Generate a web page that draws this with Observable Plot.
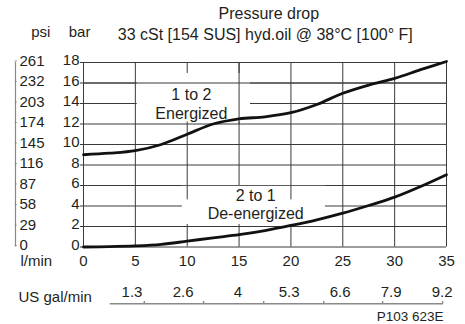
<!DOCTYPE html>
<html><head><meta charset="utf-8">
<script src="https://cdn.jsdelivr.net/npm/d3@7"></script>
<script src="https://cdn.jsdelivr.net/npm/@observablehq/plot@0.6"></script>
<style>body{margin:0;background:#fff}</style>
</head><body><div id="chart"></div>
<script>
// Flow (l/min) and pressure drop (bar)
const flow = [0, 2.5, 5, 7.5, 10, 12.5, 15, 17.5, 20, 22.5, 25, 27.5, 30, 32.5, 35];
const energized = [9.0, 9.15, 9.4, 10.0, 11.0, 12.0, 12.5, 12.7, 13.1, 13.9, 15.0, 15.8, 16.45, 17.3, 18.1];
const deEnergized = [0, 0.03, 0.1, 0.25, 0.57, 0.9, 1.2, 1.6, 2.1, 2.65, 3.3, 4.05, 4.86, 5.9, 7.05];
const seriesNames = ["1 to 2\nEnergized", "2 to 1\nDe-energized"];
const labelPos = [{x: 10.4, y: 12.51}, {x: 16.6, y: 2.75}];
const labelBoxes = [
  {x1: 5.18, x2: 16.1, y1: 12.2, y2: 16.93},
  {x1: 9.53, x2: 23.33, y1: 2.2, y2: 5.92}
];
const gridRedraw = [{x: 15, y1: 12, y2: 18}, {x: 10, y1: 4.6, y2: 6}, {x: 20, y1: 4.6, y2: 6}];
const barTicks = [0, 2, 4, 6, 8, 10, 12, 14, 16, 18];
const psiLabels = ["0", "29", "58", "87", "116", "145", "174", "203", "232", "261"];
const lpmTicks = [0, 5, 10, 15, 20, 25, 30, 35];
const galLabels = ["1.3", "2.6", "4", "5.3", "6.6", "7.9", "9.2"];
const galTickMarks = [1.55, 3.06, 4.59, 6.12, 7.62, 9.15];
const galAxisExtent = [0.68, 9.17];
const LPM_PER_GAL = 3.785;
const title = "Pressure drop";
const subtitle = "33 cSt [154 SUS] hyd.oil @ 38°C [100° F]";
const figId = "P103 623E";

const rows = [];
flow.forEach((f, i) => {
  rows.push({flow: f, dp: energized[i], s: "E"});
  rows.push({flow: f, dp: deEnergized[i], s: "D"});
});
const labels = seriesNames.map((t, i) => ({t, ...labelPos[i]}));

const ink = "#231f20";
const grid = "#3a3a3a";

const chart = Plot.plot({
  width: 465, height: 324,
  marginLeft: 83, marginRight: 19, marginTop: 62, marginBottom: 77.5,
  x: {domain: [0, 35]},
  y: {domain: [0, 18]},
  style: {fontFamily: "'Liberation Sans', Arial, sans-serif", fontSize: "15px", color: ink, background: "white"},
  marks: [
    // grid
    Plot.ruleX(lpmTicks, {x: d => d, y1: 0, y2: 18, stroke: grid, strokeWidth: 1}),
    Plot.ruleY(barTicks, {y: d => d, insetLeft: -3, stroke: grid, strokeWidth: 1}),
    // label backgrounds
    Plot.rect(labelBoxes, {x1: "x1", x2: "x2", y1: "y1", y2: "y2", fill: "white"}),
    Plot.ruleY([16], {y: d => d, stroke: grid, strokeWidth: 1}),
    Plot.ruleX(gridRedraw, {x: "x", y1: "y1", y2: "y2", stroke: grid, strokeWidth: 1}),
    // curves
    Plot.line(rows, {x: "flow", y: "dp", z: "s", curve: "catmull-rom", stroke: "#111", strokeWidth: 2.8}),
    // series labels
    Plot.text(labels, {x: "x", y: "y", text: "t", lineAnchor: "bottom", lineHeight: 1.144, fontSize: 16, fill: ink}),
    // bar axis
    Plot.axisY(barTicks, {anchor: "left", tickSize: 0, tickPadding: 4, dy: -2, label: null, fontSize: 15, fill: ink}),
    // psi axis
    Plot.ruleX([0], {x: d => d, y1: 0, y2: 18, dx: -68, stroke: "#888", strokeWidth: 1.2}),
    Plot.axisY(barTicks, {anchor: "left", tickSize: 2, dx: -66.3, dy: -1.5, tickPadding: -4.3, textAnchor: "start",
      tickFormat: d => psiLabels[barTicks.indexOf(d)], label: null, fontSize: 15, fill: ink, stroke: "#888"}),
    // x axis
    Plot.axisX(lpmTicks, {anchor: "bottom", tickSize: 0, tickPadding: 8.5, label: null, fontSize: 15, fill: ink}),
    Plot.text(["l/min"], {frameAnchor: "bottom-left", textAnchor: "start", lineAnchor: "bottom", dx: -63, dy: 19.2, fontSize: 15, fill: ink}),
    // US gal/min axis
    Plot.ruleY([0], {y: d => d, x1: galAxisExtent[0] * LPM_PER_GAL, x2: galAxisExtent[1] * LPM_PER_GAL, dy: 56.8, stroke: "#8a8a8a", strokeWidth: 1.5}),
    Plot.ruleX(galTickMarks, {x: d => d * LPM_PER_GAL, y1: 0, y2: 0.22, dy: 56.8, stroke: "#8a8a8a", strokeWidth: 1.5}),
    Plot.text(galLabels, {x: d => +d * LPM_PER_GAL, text: d => d, frameAnchor: "bottom", lineAnchor: "bottom", dx: -2.5, dy: 49.5, fontSize: 15, fill: ink}),
    Plot.text(["US gal/min"], {frameAnchor: "bottom-left", textAnchor: "start", lineAnchor: "bottom", dx: -65, dy: 55, fontSize: 15, fill: ink}),
    Plot.text([figId], {frameAnchor: "bottom-right", textAnchor: "end", lineAnchor: "bottom", dx: -3, dy: 73.5, fontSize: 13.5, fill: ink}),
    // titles
    Plot.text([title], {frameAnchor: "top", lineAnchor: "bottom", dx: 3.8, dy: -43.7, fontSize: 16, fill: ink}),
    Plot.text([subtitle], {frameAnchor: "top", lineAnchor: "bottom", dx: 0.3, dy: -22.7, fontSize: 16, fill: ink}),
    Plot.text(["psi"], {frameAnchor: "top-left", lineAnchor: "bottom", dx: -52.3, dy: -25.5, fontSize: 15, fill: ink}),
    Plot.text(["bar"], {frameAnchor: "top-left", lineAnchor: "bottom", dx: -14.8, dy: -25.5, fontSize: 15, fill: ink})
  ]
});
document.getElementById("chart").append(chart);
</script>
</body></html>
